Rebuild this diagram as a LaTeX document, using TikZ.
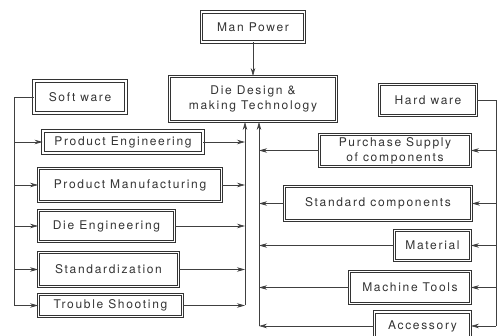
\documentclass[tikz,border=0pt]{standalone}
\usepackage{fontspec}
\setmainfont[LetterSpace=14]{TeX Gyre Heros}
\usetikzlibrary{arrows.meta, positioning}

\begin{document}
\begin{tikzpicture}[
    x=1pt, y=-1pt,
    block/.style={rectangle, draw=black!80, double, double distance=1.8pt, line width=0.9pt, text=black!80, font=\fontsize{12}{15}\selectfont, align=center, inner sep=2pt},
    arrow/.style={black!75, line width=0.7pt, -{Stealth[length=8pt, width=4.5pt]}},
    bus/.style={black!75, line width=0.7pt}
]
\useasboundingbox (0,0) rectangle (499,336);

\node (power) [block, minimum width=103pt, minimum height=30pt] at (253,27) {Man Power};
\node (design) [block, minimum width=167pt, minimum height=45pt] at (253,99) {Die Design \&\\ making Technology};
\node (soft) [block, minimum width=92pt, minimum height=32pt] at (80,97) {Soft ware};
\node (hard) [block, minimum width=97pt, minimum height=31pt] at (428,100) {Hard ware};

\node (prodeng) [block, minimum width=160pt, minimum height=22pt] at (123,142) {Product Engineering};
\node (prodman) [block, minimum width=183pt, minimum height=33pt] at (130,185) {Product Manufacturing};
\node (dieeng) [block, minimum width=136pt, minimum height=31pt] at (106.5,226) {Die Engineering};
\node (standard) [block, minimum width=140pt, minimum height=34pt] at (108.5,269.5) {Standardization};
\node (trouble) [block, minimum width=144pt, minimum height=22pt] at (110.5,305.5) {Trouble Shooting};

\node (purchase) [block, minimum width=151pt, minimum height=32pt] at (395,150.5) {Purchase Supply\\ of components};
\node (stdcomp) [block, minimum width=187pt, minimum height=34pt] at (378,203.5) {Standard components};
\node (material) [block, minimum width=76pt, minimum height=30pt] at (432.5,245.5) {Material};
\node (machine) [block, minimum width=121pt, minimum height=32pt] at (410,287.5) {Machine Tools};
\node (accessory) [block, minimum width=96pt, minimum height=28pt] at (422.5,326) {Accessory};

\coordinate (lbus) at (14,97);
\coordinate (rbus) at (496,100);
\coordinate (cleft) at (245,0);
\coordinate (cright) at (259,0);

\draw [arrow] (power) -- (design);

\draw [bus] (soft.west) -- (lbus) -- (lbus |- trouble.west);
\foreach \n in {prodeng, prodman, dieeng, standard, trouble}
    \draw [arrow] (lbus |- \n.west) -- (\n.west);
\foreach \n in {prodeng, prodman, dieeng, standard, trouble}
    \draw [arrow] (\n.east) -- (cleft |- \n.east);
\draw [arrow] (cleft |- trouble.east) -- (cleft |- design.south);

\draw [bus] (hard.east) -- (rbus) -- (rbus |- accessory.east);
\foreach \n in {purchase, stdcomp, material, machine, accessory}
    \draw [arrow] (rbus |- \n.east) -- (\n.east);
\foreach \n in {purchase, stdcomp, material, machine, accessory}
    \draw [arrow] (\n.west) -- (cright |- \n.west);
\draw [arrow] (cright |- accessory.west) -- (cright |- design.south);
\end{tikzpicture}
\end{document}
